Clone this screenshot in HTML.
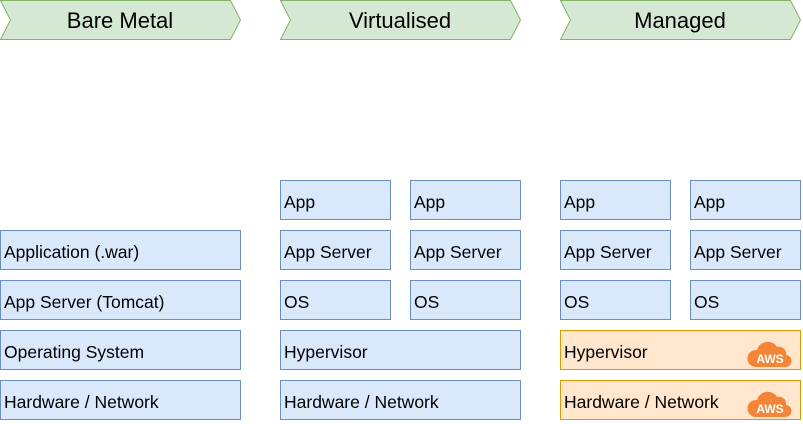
<!DOCTYPE html>
<html><head><style>
body{margin:0;width:803px;height:421px;background:#fff;position:relative;overflow:hidden;font-family:"Liberation Sans",sans-serif}
.b{position:absolute;box-sizing:border-box;height:40px;background:#dae8fc;border:1px solid #6c8ebf;font-size:17.5px;line-height:43px;padding-left:3px;color:#000;white-space:nowrap}
.o{background:#ffe6cc;border-color:#d79b00}
svg{position:absolute;left:0;top:0}
</style></head><body>
<svg width="803" height="421">
<g fill="#d5e8d4" stroke="#82b366" stroke-width="1">
<polygon points="0.5,0.5 230.5,0.5 240.5,20 230.5,39.5 0.5,39.5 10.5,20"/>
<polygon points="280.5,0.5 510.5,0.5 520.5,20 510.5,39.5 280.5,39.5 290.5,20"/>
<polygon points="560.5,0.5 790.5,0.5 800.5,20 790.5,39.5 560.5,39.5 570.5,20"/>
</g>
<g font-family="Liberation Sans, sans-serif" font-size="22" text-anchor="middle" fill="#000">
<text x="120" y="28">Bare Metal</text>
<text x="400" y="28">Virtualised</text>
<text x="680" y="28">Managed</text>
</g>
</svg>
<div class="b" style="left:0;top:230px;width:241px">Application (.war)</div>
<div class="b" style="left:0;top:280px;width:241px">App Server (Tomcat)</div>
<div class="b" style="left:0;top:330px;width:241px">Operating System</div>
<div class="b" style="left:0;top:380px;width:241px">Hardware / Network</div>

<div class="b" style="left:280px;top:180px;width:111px">App</div>
<div class="b" style="left:410px;top:180px;width:111px">App</div>
<div class="b" style="left:280px;top:230px;width:111px">App Server</div>
<div class="b" style="left:410px;top:230px;width:111px">App Server</div>
<div class="b" style="left:280px;top:280px;width:111px">OS</div>
<div class="b" style="left:410px;top:280px;width:111px">OS</div>
<div class="b" style="left:280px;top:330px;width:241px">Hypervisor</div>
<div class="b" style="left:280px;top:380px;width:241px">Hardware / Network</div>

<div class="b" style="left:560px;top:180px;width:111px">App</div>
<div class="b" style="left:690px;top:180px;width:111px">App</div>
<div class="b" style="left:560px;top:230px;width:111px">App Server</div>
<div class="b" style="left:690px;top:230px;width:111px">App Server</div>
<div class="b" style="left:560px;top:280px;width:111px">OS</div>
<div class="b" style="left:690px;top:280px;width:111px">OS</div>
<div class="b o" style="left:560px;top:330px;width:241px">Hypervisor</div>
<div class="b o" style="left:560px;top:380px;width:241px">Hardware / Network</div>

<svg width="803" height="421" style="pointer-events:none">
<g id="c">
<path d="M755,367 h30 a6,6 0 0 0 1,-12 a7,7 0 0 0 -9,-8 a11,11 0 0 0 -20,3 a8,8 0 0 0 -2,17 z" fill="#f58536"/>
<text x="770" y="363" font-family="Liberation Sans, sans-serif" font-size="12" font-weight="bold" fill="#fff" text-anchor="middle">AWS</text>
</g>
<use href="#c" y="50"/>
</svg>
</body></html>
